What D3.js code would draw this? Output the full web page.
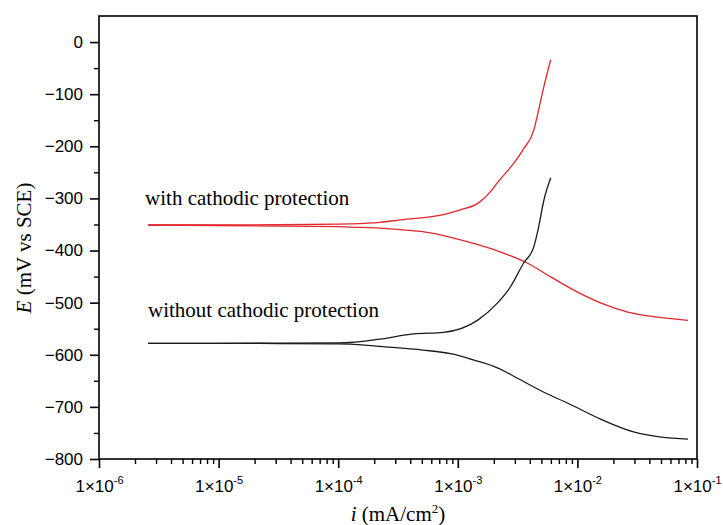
<!DOCTYPE html>
<html>
<head>
<meta charset="utf-8">
<script src="https://cdn.jsdelivr.net/npm/d3@7"></script>
<style>
  html, body { margin: 0; padding: 0; background: #fff; }
  svg { display: block; }
</style>
</head>
<body>
<svg id="chart" width="723" height="525"></svg>
<script>
// ---------- DATA ----------
// Current density (mA/cm2) and potential (mV vs SCE)
const withCP_anodic_i = [2.57e-6, 1e-5, 3.16e-5, 1e-4, 1.26e-4, 2.24e-4, 3.31e-4, 7.59e-4, 1.05e-3, 1.48e-3, 1.91e-3, 2.14e-3, 2.95e-3, 3.55e-3, 4.32e-3, 4.68e-3, 5.25e-3, 5.98e-3];
const withCP_anodic_E = [-351, -351, -350.5, -349.5, -349, -346, -341, -331, -322, -309, -285, -270, -232, -205, -169, -136, -85, -34];

const withCP_cathodic_i = [2.57e-6, 1e-5, 3.16e-5, 1e-4, 1.26e-4, 2.24e-4, 3.31e-4, 5.89e-4, 1.20e-3, 2.29e-3, 3.80e-3, 6.03e-3, 9.33e-3, 1.58e-2, 2.63e-2, 4.07e-2, 8.41e-2];
const withCP_cathodic_E = [-351, -352, -353, -354, -355, -357, -360, -366, -383, -403, -424, -451, -476, -501, -518, -526, -534];

const withoutCP_anodic_i = [2.57e-6, 1e-5, 3.16e-5, 1e-4, 1.26e-4, 2.24e-4, 4.27e-4, 7.59e-4, 1.48e-3, 2.14e-3, 2.75e-3, 3.55e-3, 4.32e-3, 4.68e-3, 5.25e-3, 5.98e-3];
const withoutCP_anodic_E = [-578, -578, -577.5, -577, -576.5, -570, -560, -557, -533, -501, -470, -424, -393, -361, -303, -261];

const withoutCP_cathodic_i = [2.57e-6, 1e-5, 3.16e-5, 1e-4, 1.26e-4, 2.24e-4, 5.13e-4, 8.71e-4, 1.35e-3, 2.14e-3, 3.16e-3, 5.25e-3, 8.32e-3, 1.58e-2, 2.95e-2, 5.01e-2, 8.41e-2];
const withoutCP_cathodic_E = [-578, -578, -578.5, -579, -579.5, -584, -591, -598, -610, -625, -645, -672, -693, -724, -748, -758, -762];

const xMajorTicks = [1e-6, 1e-5, 1e-4, 1e-3, 1e-2, 1e-1];
const xTickExponents = ["-6", "-5", "-4", "-3", "-2", "-1"];
const yMajorTicks = [0, -100, -200, -300, -400, -500, -600, -700, -800];
const yTickLabels = ["0", "\u2212100", "\u2212200", "\u2212300", "\u2212400", "\u2212500", "\u2212600", "\u2212700", "\u2212800"];
const yMinorTicks = [-50, -150, -250, -350, -450, -550, -650, -750];

const annotations = [
  { text: "with cathodic protection", i: 2.43e-6, E: -313 },
  { text: "without cathodic protection", i: 2.57e-6, E: -528 }
];

// ---------- LAYOUT ----------
const svg = d3.select("#chart");
const plotLeft = 99, plotRight = 697, plotTop = 16, plotBottom = 459;

const x = d3.scaleLog().domain([1e-6, 1e-1]).range([plotLeft, plotRight]);
const y = d3.scaleLinear().domain([-800, 50]).range([plotBottom, plotTop]);

const tickFont = "'Liberation Sans', Arial, sans-serif";
const serifFont = "'Liberation Serif', 'Times New Roman', serif";

// minor x ticks (2..9 per decade)
const xMinor = [];
for (let d = 0; d < xMajorTicks.length - 1; d++) {
  for (let k = 2; k <= 9; k++) xMinor.push(xMajorTicks[d] * k);
}

// frame
svg.append("rect")
  .attr("x", plotLeft).attr("y", plotTop)
  .attr("width", plotRight - plotLeft).attr("height", plotBottom - plotTop)
  .attr("fill", "none").attr("stroke", "#000").attr("stroke-width", 1.6);

// x axis minor
const xMinorAxis = d3.axisBottom(x).tickValues(xMinor).tickSize(5).tickFormat("");
svg.append("g").attr("transform", `translate(0,${plotBottom})`).call(xMinorAxis)
  .call(g => g.select(".domain").remove())
  .call(g => g.selectAll("line").attr("stroke-width", 1.4));

// x axis major
const xAxis = d3.axisBottom(x).tickValues(xMajorTicks).tickSize(9).tickFormat("");
const gx = svg.append("g").attr("transform", `translate(0,${plotBottom})`).call(xAxis);
gx.select(".domain").remove();
gx.selectAll("line").attr("stroke-width", 1.6);
gx.selectAll(".tick").each(function(d, idx) {
  const t = d3.select(this).append("text")
    .attr("y", 33)
    .attr("fill", "#000")
    .attr("text-anchor", "middle")
    .style("font-family", tickFont)
    .style("font-size", "17px");
  t.append("tspan").text("1\u00d710");
  t.append("tspan").attr("dy", -8).style("font-size", "11px").text(xTickExponents[idx]);
});

// y axis minor
const yMinorAxis = d3.axisLeft(y).tickValues(yMinorTicks).tickSize(5).tickFormat("");
svg.append("g").attr("transform", `translate(${plotLeft},0)`).call(yMinorAxis)
  .call(g => g.select(".domain").remove())
  .call(g => g.selectAll("line").attr("stroke-width", 1.4));

// y axis major
const yAxis = d3.axisLeft(y).tickValues(yMajorTicks).tickSize(9).tickPadding(7)
  .tickFormat((d, idx) => yTickLabels[idx]);
const gy = svg.append("g").attr("transform", `translate(${plotLeft},0)`).call(yAxis);
gy.select(".domain").remove();
gy.selectAll("line").attr("stroke-width", 1.6);
gy.selectAll("text").style("font-family", tickFont).style("font-size", "17px").attr("fill", "#000");

// axis titles
const yTitle = svg.append("text")
  .attr("transform", "translate(31,248) rotate(-90)")
  .attr("text-anchor", "middle")
  .style("font-family", serifFont)
  .style("font-size", "21px")
  .attr("fill", "#000");
yTitle.append("tspan").style("font-style", "italic").text("E");
yTitle.append("tspan").text(" (mV vs SCE)");

const xTitle = svg.append("text")
  .attr("x", 398).attr("y", 521)
  .attr("text-anchor", "middle")
  .style("font-family", serifFont)
  .style("font-size", "21px")
  .attr("fill", "#000");
xTitle.append("tspan").style("font-style", "italic").text("i");
xTitle.append("tspan").text(" (mA/cm");
xTitle.append("tspan").attr("dy", -8).style("font-size", "13px").text("2");
xTitle.append("tspan").attr("dy", 8).text(")");

// curves
const line = d3.line()
  .x(d => x(d[0]))
  .y(d => y(d[1]))
  .curve(d3.curveMonotoneX);

const series = [
  { i: withCP_anodic_i, E: withCP_anodic_E, color: "#e3262b" },
  { i: withCP_cathodic_i, E: withCP_cathodic_E, color: "#e3262b" },
  { i: withoutCP_anodic_i, E: withoutCP_anodic_E, color: "#1a1a1a" },
  { i: withoutCP_cathodic_i, E: withoutCP_cathodic_E, color: "#1a1a1a" }
];
series.forEach(s => {
  svg.append("path")
    .datum(s.i.map((v, k) => [v, s.E[k]]))
    .attr("d", line)
    .attr("fill", "none")
    .attr("stroke", s.color)
    .attr("stroke-width", 1.3);
});

// annotations
annotations.forEach(a => {
  svg.append("text")
    .attr("x", x(a.i)).attr("y", y(a.E))
    .style("font-family", serifFont)
    .style("font-size", "21px")
    .attr("fill", "#000")
    .text(a.text);
});
</script>
</body>
</html>
